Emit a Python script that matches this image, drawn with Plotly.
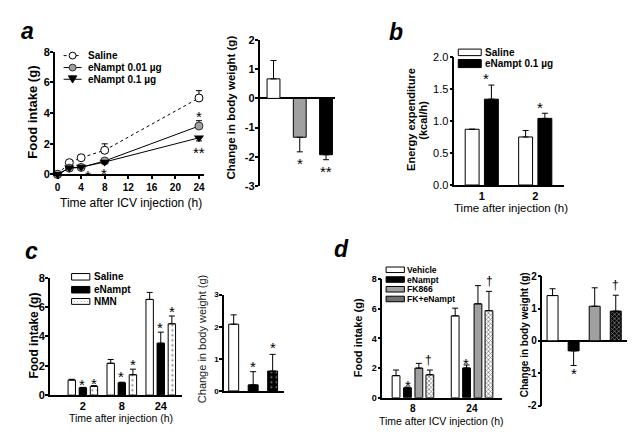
import plotly.graph_objects as go

W, H = 635, 442
FONT = "Liberation Sans"

# ---------------- data ----------------
# panel a: cumulative food intake (g) after ICV injection
time_h = [0, 2, 4, 8, 24]
fi_saline = [0, 0.76, 1.08, 1.57, 4.98]
fi_saline_err = [0, 0.05, 0.20, 0.42, 0.48]
fi_low = [0, 0.40, 0.45, 0.87, 3.15]
fi_low_err = [0, 0.05, 0.06, 0.10, 0.35]
fi_high = [0, 0.42, 0.47, 0.80, 2.38]
fi_high_err = [0, 0.04, 0.05, 0.08, 0.20]
line_names = ["Saline", "eNampt 0.01 µg", "eNampt 0.1 µg"]

# panel a: change in body weight (g)
bw_a_groups = ["Saline", "eNampt 0.01 µg", "eNampt 0.1 µg"]
bw_a = [0.67, -1.33, -1.93]
bw_a_err = [0.63, 0.50, 0.17]

# panel b: energy expenditure (kcal/h)
ee_times = ["1", "2"]
ee_saline = [0.87, 0.75]
ee_saline_err = [0.0, 0.10]
ee_enampt = [1.34, 1.04]
ee_enampt_err = [0.22, 0.08]
ee_names = ["Saline", "eNampt 0.1 µg"]

# panel c: food intake (g) and body weight change (g)
c_times = ["2", "8", "24"]
c_saline = [1.03, 2.17, 6.52]
c_saline_err = [0.05, 0.26, 0.48]
c_enampt = [0.50, 0.84, 3.54]
c_enampt_err = [0.03, 0.04, 0.75]
c_nmn = [0.60, 1.39, 4.86]
c_nmn_err = [0.05, 0.38, 0.53]
c_names = ["Saline", "eNampt", "NMN"]
bw_c = [2.08, 0.19, 0.62]
bw_c_err = [0.29, 0.41, 0.52]

# panel d: food intake (g) and body weight change (g)
d_times = ["8", "24"]
d_vehicle = [1.49, 5.52]
d_vehicle_err = [0.38, 0.52]
d_enampt = [0.67, 2.01]
d_enampt_err = [0.05, 0.20]
d_fk = [2.00, 6.33]
d_fk_err = [0.32, 1.23]
d_fken = [1.55, 5.87]
d_fken_err = [0.32, 1.30]
d_names = ["Vehicle", "eNampt", "FK866", "FK+eNampt"]
bw_d = [1.40, -0.31, 1.07, 0.92]
bw_d_err = [0.21, 0.45, 0.57, 0.49]

# ---------------- helpers ----------------
def px(x):
    return x / W

def py(y):
    return 1 - y / H

GRAY = "#a0a0a0"
ERR = dict(color="black", thickness=1, width=3)

fig = go.Figure()


def up_err(err):
    return dict(type="data", symmetric=False, array=err, arrayminus=[0] * len(err), **ERR)


def signed_err(vals, err):
    return dict(type="data", symmetric=False,
                array=[e if v >= 0 else 0 for v, e in zip(vals, err)],
                arrayminus=[e if v < 0 else 0 for v, e in zip(vals, err)], **ERR)


# ---------------- panel a (line) ----------------
fig.add_trace(go.Scatter(
    x=time_h, y=fi_saline, name=line_names[0], mode="lines+markers",
    line=dict(color="black", width=1, dash="dot"),
    marker=dict(symbol="circle", size=8, color="white", line=dict(color="black", width=1)),
    error_y=up_err(fi_saline_err), cliponaxis=False, xaxis="x", yaxis="y"))
fig.add_trace(go.Scatter(
    x=time_h, y=fi_low, name=line_names[1], mode="lines+markers",
    line=dict(color="black", width=1),
    marker=dict(symbol="circle", size=8, color=GRAY, line=dict(color="#333", width=1)),
    error_y=up_err(fi_low_err), cliponaxis=False, xaxis="x", yaxis="y"))
fig.add_trace(go.Scatter(
    x=time_h, y=fi_high, name=line_names[2], mode="lines+markers",
    line=dict(color="black", width=1),
    marker=dict(symbol="triangle-down", size=9, color="black"),
    error_y=dict(type="data", symmetric=False, array=[0] * 5, arrayminus=fi_high_err, **ERR),
    cliponaxis=False, xaxis="x", yaxis="y"))

# ---------------- panel a (bars) ----------------
fig.add_trace(go.Bar(
    x=list(range(len(bw_a))), y=bw_a, width=0.49, name="bw_a",
    marker=dict(color=["white", GRAY, "black"], line=dict(color="black", width=1)),
    error_y=signed_err(bw_a, bw_a_err), xaxis="x2", yaxis="y2"))

# ---------------- panel b ----------------
fig.add_trace(go.Bar(
    x=list(range(len(ee_times))), y=ee_saline, width=0.26, offset=-0.31, name=ee_names[0],
    marker=dict(color="white", line=dict(color="black", width=1)),
    error_y=up_err(ee_saline_err), xaxis="x3", yaxis="y3"))
fig.add_trace(go.Bar(
    x=list(range(len(ee_times))), y=ee_enampt, width=0.26, offset=0.05, name=ee_names[1],
    marker=dict(color="black", line=dict(color="black", width=1)),
    error_y=up_err(ee_enampt_err), xaxis="x3", yaxis="y3"))

# ---------------- panel c ----------------
cx = list(range(len(c_times)))
fig.add_trace(go.Bar(
    x=cx, y=c_saline, width=0.19, offset=-0.38, name=c_names[0],
    marker=dict(color="white", line=dict(color="black", width=1)),
    error_y=up_err(c_saline_err), xaxis="x4", yaxis="y4"))
fig.add_trace(go.Bar(
    x=cx, y=c_enampt, width=0.19, offset=-0.095, name=c_names[1],
    marker=dict(color="black", line=dict(color="black", width=1)),
    error_y=up_err(c_enampt_err), xaxis="x4", yaxis="y4"))
fig.add_trace(go.Bar(
    x=cx, y=c_nmn, width=0.19, offset=0.19, name=c_names[2],
    marker=dict(color="black", line=dict(color="black", width=1),
                pattern=dict(shape=".", fgcolor="black", bgcolor="white", size=5, solidity=0.15)),
    error_y=up_err(c_nmn_err), xaxis="x4", yaxis="y4"))
fig.add_trace(go.Bar(
    x=list(range(len(bw_c))), y=bw_c, width=0.51, name="bw_c",
    marker=dict(color=["white", "black", "black"], line=dict(color="black", width=1),
                pattern=dict(shape=["", "", "."], fgcolor="black", bgcolor="white", size=5, solidity=0.15)),
    error_y=up_err(bw_c_err), xaxis="x5", yaxis="y5"))

# ---------------- panel d ----------------
dxs = list(range(len(d_times)))
d_series = [(d_vehicle, d_vehicle_err, "white", ""), (d_enampt, d_enampt_err, "black", ""),
            (d_fk, d_fk_err, GRAY, ""), (d_fken, d_fken_err, "black", "x")]
d_offsets = [-0.350, -0.157, 0.036, 0.222]
for (vals, err, col, pat), off, nm in zip(d_series, d_offsets, d_names):
    mk = dict(color=col, line=dict(color="black", width=1))
    if pat:
        mk["pattern"] = dict(shape=pat, fgcolor="black", bgcolor="white", size=3, solidity=0.45)
    fig.add_trace(go.Bar(x=dxs, y=vals, width=0.132, offset=off, name=nm, marker=mk,
                         error_y=up_err(err), xaxis="x6", yaxis="y6"))
fig.add_trace(go.Bar(
    x=list(range(len(bw_d))), y=bw_d, width=0.52, name="bw_d",
    marker=dict(color=["white", "black", GRAY, "black"], line=dict(color="black", width=1),
                pattern=dict(shape=["", "", "", "x"], fgcolor="black", bgcolor="white", size=3, solidity=0.45)),
    error_y=signed_err(bw_d, bw_d_err), xaxis="x7", yaxis="y7"))

# ---------------- axes ----------------
def axis(dom, rng, anchor, tickvals=None, ticktext=None, size=11, bold=True, ticks="outside",
         showline=True, zeroline=False, showticklabels=True, standoff=0):
    d = dict(domain=dom, range=rng, anchor=anchor, showline=showline, linecolor="black",
             linewidth=1.5, ticks=ticks, ticklen=3, tickwidth=1.5, tickcolor="black",
             showgrid=False, zeroline=zeroline, zerolinecolor="black", zerolinewidth=1.5,
             showticklabels=showticklabels, fixedrange=True, ticklabelstandoff=standoff,
             tickfont=dict(family=FONT, size=size, color="black", weight="bold" if bold else "normal"))
    if tickvals is not None:
        d["tickmode"] = "array"
        d["tickvals"] = tickvals
        d["ticktext"] = ticktext if ticktext is not None else [str(v) for v in tickvals]
    return d

def xdom(a, b):
    return [px(a), px(b)]

def ydom(top, bottom):
    return [py(bottom), py(top)]

fig.update_layout(
    # a line
    xaxis=axis(xdom(55, 204), [-0.45, 24.8], "y", [0, 4, 8, 12, 16, 20, 24], size=10),
    yaxis=axis(ydom(47, 173), [0, 8], "x", [0, 2, 4, 6, 8], size=11, standoff=-2),
    # a bars
    xaxis2=axis(xdom(260, 336), [-0.53, 2.36], "y2", ticks="", showline=False, showticklabels=False),
    yaxis2=axis(ydom(35, 185), [-3, 2], "x2", [-3, -2, -1, 0, 1, 2],
                ["-3", "-2", "-1", "0", "1", "2"], size=11, zeroline=True, standoff=-2),
    # b
    xaxis3=axis(xdom(455, 565), [-0.514, 1.54], "y3", [0, 1], ee_times, ticks="", size=11),
    yaxis3=axis(ydom(52.3, 184), [0, 2], "x3", [0, 0.5, 1, 1.5, 2],
                ["0.0", "0.5", "1.0", "1.5", "2.0"], size=11, bold=False, standoff=-1),
    # c
    xaxis4=axis(xdom(50, 182), [-0.846, 2.538], "y4", [0, 1, 2], c_times, ticks="", size=11),
    yaxis4=axis(ydom(279.3, 400), [0, 8], "x4", [0, 2, 4, 6, 8], size=11, standoff=-2),
    # c bars
    xaxis5=axis(xdom(224.3, 284), [-0.5, 2.56], "y5", ticks="", showticklabels=False),
    yaxis5=axis(ydom(296.7, 395.7), [0, 3], "x5", [0, 1, 2, 3], size=8, standoff=-1),
    # d
    xaxis6=axis(xdom(383, 502.7), [-0.515, 1.507], "y6", [0, 1], d_times, ticks="", size=10),
    yaxis6=axis(ydom(280.7, 402.7), [0, 8], "x6", [0, 2, 4, 6, 8], size=9, standoff=-1),
    # d bars
    xaxis7=axis(xdom(543.3, 627.7), [-0.48, 3.52], "y7", ticks="", showline=False, showticklabels=False),
    yaxis7=axis(ydom(277.7, 410.7), [-2, 2], "x7", [-2, -1, 0, 1, 2],
                ["-2", "-1", "0", "1", "2"], size=10, zeroline=True, standoff=-1),
)

# ---------------- annotations ----------------
ann = []

def text(x, y, s, size=11, bold=True, angle=0, xanchor="center", italic=False, color="black"):
    ann.append(dict(x=px(x), y=py(y), xref="paper", yref="paper", text=s, showarrow=False,
                    textangle=angle, xanchor=xanchor, yanchor="middle",
                    font=dict(family=FONT, size=size, color=color,
                              weight="bold" if bold else "normal",
                              style="italic" if italic else "normal")))

def mark(x, y, xr, yr, s="*", size=15):
    shift = -3.5 if s.startswith("*") else 0
    ann.append(dict(x=x, y=y, xref=xr, yref=yr, text=s, showarrow=False, yshift=shift,
                    xanchor="center", yanchor="middle",
                    font=dict(family=FONT, size=size, color="black")))

# panel letters
text(27.5, 26.2, "a", size=23, italic=True)
text(397, 27, "b", size=23, italic=True)
text(31.3, 251.7, "c", size=23, italic=True)
text(342.5, 250, "d", size=23, italic=True)

# axis titles
text(31.7, 109, "Food intake (g)", size=13, angle=-90)
text(131, 203, "Time after ICV injection (h)", size=12, bold=False)
text(231.7, 104, "Change in body weight (g)", size=11.5, angle=-90)
text(411.7, 117, "Energy expenditure", size=11, angle=-90)
text(423.5, 117, "(kcal/h)", size=11, angle=-90)
text(512, 208, "Time after injection (h)", size=11.5, bold=False)
text(34.5, 338.3, "Food intake (g)", size=12, angle=-90)
text(121, 423.5, "Time after injection (h)", size=10.5, bold=False)
text(202.3, 342.5, "Change in body weight (g)", size=11, bold=False, angle=-90, color="#222")
text(358.3, 340.8, "Food intake (g)", size=11, angle=-90)
text(442, 426.7, "Time after ICV injection (h)", size=10.5, bold=False)
text(525, 338.3, "Change in body weight (g)", size=10, angle=-90)

# significance marks
mark(5.2, 0.15, "x", "y"); mark(7.9, 0.25, "x", "y")
mark(24, 4.0, "x", "y"); mark(24, 1.64, "x", "y", "**")
mark(1, -2.11, "x2", "y2"); mark(2, -2.37, "x2", "y2", "**")
mark(0.07, 1.72, "x3", "y3"); mark(1.08, 1.27, "x3", "y3")
for i, (ye, yn) in enumerate([(0.95, 1.06), (1.5, 2.32), (4.82, 5.97)]):
    mark(i - 0.01, ye, "x4", "y4"); mark(i + 0.28, yn, "x4", "y4")
mark(1, 0.88, "x5", "y5"); mark(2, 1.45, "x5", "y5")
mark(-0.09, 1.05, "x6", "y6"); mark(0.27, 2.54, "x6", "y6", "†", size=12)
mark(0.9, 2.54, "x6", "y6"); mark(1.29, 7.87, "x6", "y6", "†", size=12)
mark(3, 1.72, "x7", "y7", "†", size=12); mark(1, -0.91, "x7", "y7")

# ---------------- hand-drawn legends (shapes + text) ----------------
shapes = []

def rect(x0, x1, y0, y1, fill):
    shapes.append(dict(type="rect", xref="paper", yref="paper", x0=px(x0), x1=px(x1),
                       y0=py(y1), y1=py(y0), fillcolor=fill, line=dict(color="black", width=1)))

def hline(x0, x1, y, dash="solid"):
    shapes.append(dict(type="line", xref="paper", yref="paper", x0=px(x0), x1=px(x1),
                       y0=py(y), y1=py(y), line=dict(color="black", width=1, dash=dash)))

# legend a
la_rows = [51, 63.3, 75.3]
hline(63.7, 81.7, la_rows[0], "dot"); hline(63.7, 81.7, la_rows[1]); hline(63.7, 81.7, la_rows[2])
shapes.append(dict(type="circle", xref="paper", yref="paper", x0=px(69.2), x1=px(76.2),
                   y0=py(la_rows[0] + 3.5), y1=py(la_rows[0] - 3.5), fillcolor="white",
                   line=dict(color="black", width=1)))
shapes.append(dict(type="circle", xref="paper", yref="paper", x0=px(69.2), x1=px(76.2),
                   y0=py(la_rows[1] + 3.5), y1=py(la_rows[1] - 3.5), fillcolor=GRAY,
                   line=dict(color="#333", width=1)))
r = la_rows[2]
shapes.append(dict(type="path", xref="paper", yref="paper",
                   path=f"M {px(68.5)} {py(r - 3.5)} L {px(76.9)} {py(r - 3.5)} L {px(72.7)} {py(r + 3.8)} Z",
                   fillcolor="black", line=dict(color="black", width=1)))
for yy, nm in zip(la_rows, line_names):
    text(86, yy, nm, size=10, xanchor="left")

# legend b
rect(459, 482, 44.3, 51, "white"); rect(459, 482, 55, 63.3, "black")
text(484, 47.7, ee_names[0], size=10, xanchor="left")
text(484, 59.3, ee_names[1], size=10, xanchor="left")

# legend c
for (y0, y1, f), nm, ty in zip([(275, 281.7, "white"), (288.3, 295, "black"), (300.7, 306.7, "white")],
                                c_names, [278.3, 291.7, 303.6]):
    rect(71.7, 90, y0, y1, f)
    text(91.7, ty, nm, size=10, xanchor="left")
for k in range(5):
    shapes.append(dict(type="circle", xref="paper", yref="paper",
                       x0=px(74 + 3.4 * k), x1=px(74.8 + 3.4 * k), y0=py(304.2), y1=py(303.4),
                       fillcolor="black", line=dict(width=0)))

# legend d
for (y0, y1, f), nm in zip([(268.3, 274, "white"), (278.3, 284, "black"), (288.3, 294, GRAY),
                            (298.3, 304, "#707070")], d_names):
    rect(386.7, 405, y0, y1, f)
    text(406, (y0 + y1) / 2, nm, size=8.6, xanchor="left")

fig.update_layout(
    width=W, height=H, margin=dict(l=0, r=0, t=0, b=0),
    paper_bgcolor="white", plot_bgcolor="white", showlegend=False,
    barmode="overlay", annotations=ann, shapes=shapes,
    font=dict(family=FONT, color="black"),
)

fig.write_html("out.html", config={"displayModeBar": False},
               post_script="document.body.style.margin='0';document.body.style.overflow='hidden';")
